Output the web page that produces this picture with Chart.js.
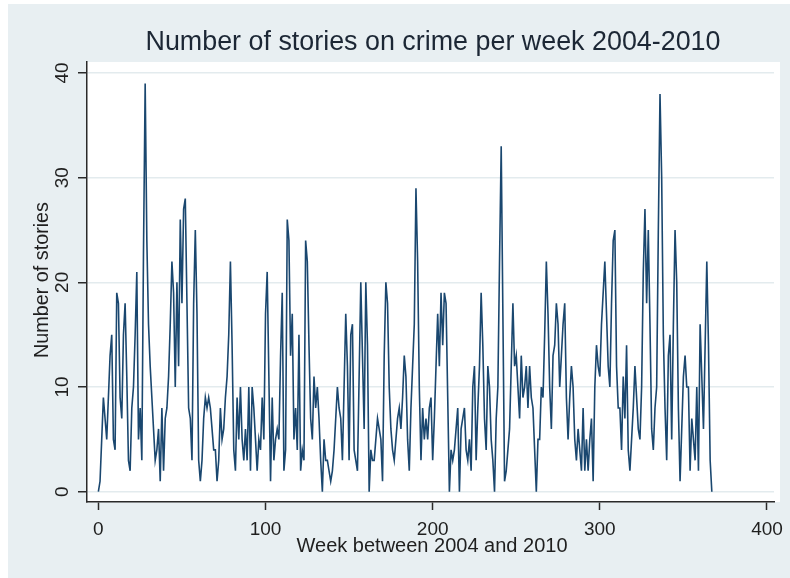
<!DOCTYPE html>
<html>
<head>
<meta charset="utf-8">
<script src="https://cdn.jsdelivr.net/npm/chart.js@4/dist/chart.umd.min.js"></script>
<style>
  html, body { margin: 0; padding: 0; background: #ffffff; }
  #wrap { width: 790px; height: 578px; }
</style>
</head>
<body>
<div id="wrap"><canvas id="c" width="790" height="578"></canvas></div>
<script>
// Labels
const chartTitle = 'Number of stories on crime per week 2004-2010';
const xAxisTitle = 'Week between 2004 and 2010';
const yAxisTitle = 'Number of stories';
const xTickValues = [0, 100, 200, 300, 400];
const yTickValues = [0, 10, 20, 30, 40];

// Weekly story counts, in week order starting at week 0
const storiesWeeks0to47 = [
  0, 1, 5, 9, 7, 5, 9, 13, 15, 5,
  4, 19, 18, 9, 7, 15, 18, 11, 3, 2,
  8, 10, 15, 21, 5, 8, 3, 23, 39, 24,
  16, 12, 9, 6, 3, 4, 6, 1, 8, 2,
  7, 8, 11, 16, 22, 19, 10, 20
];
const storiesWeeks48to99 = [
  12, 26, 18, 27, 28, 18, 8, 7, 3, 18,
  25, 17, 3, 1, 3, 7, 9, 8, 9, 8,
  6, 4, 4, 1, 3, 8, 5, 6, 9, 11,
  15, 22, 14, 4, 2, 9, 5, 10, 5, 3,
  6, 3, 10, 2, 10, 8, 5, 2, 5, 4,
  9, 5
];
const storiesWeeks100to150 = [
  17, 21, 11, 1, 9, 3, 5, 6, 5, 13,
  19, 2, 4, 26, 24, 13, 17, 5, 8, 4,
  15, 2, 4, 3, 24, 22, 14, 7, 5, 11,
  8, 10, 7, 3, 0, 5, 3, 3, 2, 1,
  2, 4, 7, 10, 8, 7, 3, 10, 17, 12,
  3
];
const storiesWeeks151to201 = [
  15, 16, 4, 3, 2, 11, 20, 13, 6, 20,
  14, 0, 4, 3, 3, 5, 7, 6, 5, 1,
  13, 20, 18, 10, 6, 4, 3, 5, 7, 8,
  6, 9, 13, 11, 5, 2, 8, 12, 16, 29,
  22, 10, 3, 8, 5, 7, 5, 8, 9, 3,
  7
];
const storiesWeeks202to252 = [
  12, 17, 12, 19, 14, 19, 18, 9, 0, 4,
  3, 4, 6, 8, 0, 6, 7, 8, 4, 3,
  5, 2, 10, 12, 3, 8, 12, 19, 14, 7,
  4, 12, 10, 5, 3, 0, 7, 10, 22, 33,
  17, 1, 2, 4, 6, 12, 18, 12, 13, 10,
  7
];
const storiesWeeks253to303 = [
  13, 9, 10, 12, 8, 12, 9, 8, 4, 0,
  5, 5, 10, 9, 15, 22, 17, 10, 6, 13,
  14, 18, 16, 10, 13, 16, 18, 9, 5, 9,
  12, 10, 5, 3, 6, 4, 2, 8, 2, 5,
  2, 5, 7, 1, 10, 14, 12, 11, 16, 19,
  22
];
const storiesWeeks304to354 = [
  17, 12, 10, 18, 24, 25, 12, 8, 8, 4,
  11, 7, 14, 4, 2, 5, 8, 12, 9, 6,
  5, 10, 21, 27, 18, 25, 16, 6, 4, 8,
  10, 25, 38, 30, 15, 8, 3, 13, 15, 5,
  16, 25, 20, 8, 1, 6, 11, 13, 10, 10,
  2
];
const storiesWeeks355to367 = [
  7, 5, 3, 10, 2, 16, 11, 6, 14, 22, 14, 3, 0
];

const weeklyStories = [].concat(
  storiesWeeks0to47, storiesWeeks48to99, storiesWeeks100to150,
  storiesWeeks151to201, storiesWeeks202to252, storiesWeeks253to303,
  storiesWeeks304to354, storiesWeeks355to367
);
const points = weeklyStories.map((v, week) => ({ x: week, y: v }));

const FONT = '"Liberation Sans", Arial, sans-serif';
const TEXT_COLOR = '#1f1f1f';
const AXIS_COLOR = '#2a2a2a';

// Draws a string centred on (x, y) baseline, optionally rotated, optionally fitted to a width
function drawLabel(ctx, str, x, y, size, opts = {}) {
  ctx.save();
  ctx.font = size + 'px ' + FONT;
  ctx.fillStyle = opts.color || TEXT_COLOR;
  ctx.textAlign = 'center';
  ctx.textBaseline = 'alphabetic';
  ctx.translate(x, y);
  if (opts.rotate) ctx.rotate(opts.rotate);
  if (opts.width) {
    const w = ctx.measureText(str).width;
    ctx.scale(opts.width / w, 1);
  }
  ctx.fillText(str, 0, 0);
  ctx.restore();
}

const framePlugin = {
  id: 'frame',
  beforeDraw(chart) {
    const { ctx, chartArea: a } = chart;
    ctx.save();
    ctx.fillStyle = '#ffffff';
    ctx.fillRect(0, 0, chart.width, chart.height);
    ctx.fillStyle = '#e8eff2';
    ctx.fillRect(8, 4, chart.width - 8, chart.height - 4);
    ctx.fillStyle = '#ffffff';
    ctx.fillRect(a.left, a.top, a.right + 6 - a.left, a.bottom - a.top);
    ctx.restore();
  },
  afterDraw(chart) {
    const { ctx, scales } = chart;
    const xs = scales.x, ys = scales.y;
    // Title
    drawLabel(ctx, chartTitle, 433, 50, 27, { width: 575, color: '#1c2735' });
    // X tick labels
    xTickValues.forEach(v => drawLabel(ctx, String(v), xs.getPixelForValue(v), 535, 19));
    // X axis title
    drawLabel(ctx, xAxisTitle, 432, 552, 20, { width: 271 });
    // Y tick labels, reading upwards
    yTickValues.forEach(v => drawLabel(ctx, String(v), 67.5, ys.getPixelForValue(v), 19, { rotate: -Math.PI / 2 }));
    // Y axis title
    drawLabel(ctx, yAxisTitle, 48, 280, 20, { rotate: -Math.PI / 2, width: 156 });
  }
};

new Chart(document.getElementById('c'), {
  type: 'line',
  data: {
    datasets: [{
      data: points,
      borderColor: '#1a476f',
      borderWidth: 1.6,
      pointRadius: 0,
      tension: 0,
      fill: false
    }]
  },
  options: {
    responsive: false,
    animation: false,
    devicePixelRatio: 1,
    layout: { padding: { left: 0, top: 62, right: 16, bottom: 0 } },
    plugins: {
      legend: { display: false },
      tooltip: { enabled: false },
      title: { display: false }
    },
    scales: {
      x: {
        type: 'linear',
        min: -6.8,
        max: 404.2,
        afterBuildTicks: s => { s.ticks = xTickValues.map(v => ({ value: v })); },
        afterFit: s => { s.height = 76; },
        ticks: { display: false },
        grid: { drawOnChartArea: false, tickLength: 8, tickColor: AXIS_COLOR, tickWidth: 1.5 },
        border: { display: true, color: AXIS_COLOR, width: 1.5 }
      },
      y: {
        type: 'linear',
        min: -0.98,
        max: 41.05,
        afterBuildTicks: s => { s.ticks = yTickValues.map(v => ({ value: v })); },
        afterFit: s => { s.width = 87; },
        ticks: { display: false },
        grid: { color: '#e3ebee', lineWidth: 1.5, tickLength: 9, tickColor: AXIS_COLOR, tickWidth: 1.5 },
        border: { display: true, color: AXIS_COLOR, width: 1.5 }
      }
    }
  },
  plugins: [framePlugin]
});
</script>
</body>
</html>
